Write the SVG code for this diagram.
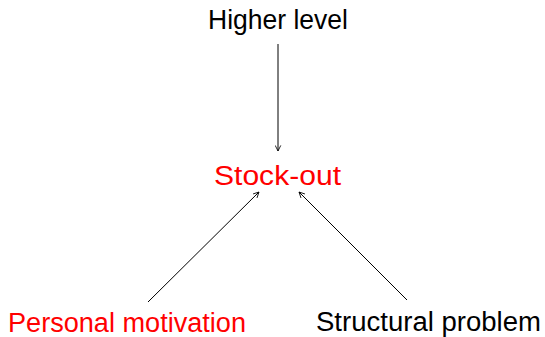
<svg xmlns="http://www.w3.org/2000/svg" width="545" height="337" viewBox="0 0 545 337">
<style>
text{font-family:"Liberation Sans","DejaVu Sans",sans-serif;font-size:27px;text-anchor:middle}
.red{fill:#ff0000}
.blk{fill:#000}
.edge{stroke:#000;stroke-width:1;fill:none;marker-end:url(#ah)}
</style>
<defs>
<marker id="ah" viewBox="0 0 10 10" refX="9" refY="5" markerWidth="7" markerHeight="7" markerUnits="userSpaceOnUse" orient="auto">
<path d="M1,1 L9,5 L1,9" fill="none" stroke="#000" stroke-width="1.2"/>
</marker>
</defs>
<rect width="545" height="337" fill="#fff"/>
<g id="higher"><text class="blk" x="278" y="29" textLength="140" lengthAdjust="spacingAndGlyphs">Higher level</text></g>
<g id="stockout"><text class="red" x="277.5" y="185" textLength="127" lengthAdjust="spacingAndGlyphs">Stock-out</text></g>
<g id="personal"><text class="red" x="127" y="332" textLength="238" lengthAdjust="spacingAndGlyphs">Personal motivation</text></g>
<g id="structural"><text class="blk" x="428.5" y="331" textLength="225" lengthAdjust="spacingAndGlyphs">Structural problem</text></g>
<g id="connectors">
<line class="edge" x1="278" y1="44" x2="278" y2="151"/>
<line class="edge" x1="148" y1="302" x2="259" y2="192"/>
<line class="edge" x1="407" y1="300" x2="299" y2="192"/>
</g>
</svg>
